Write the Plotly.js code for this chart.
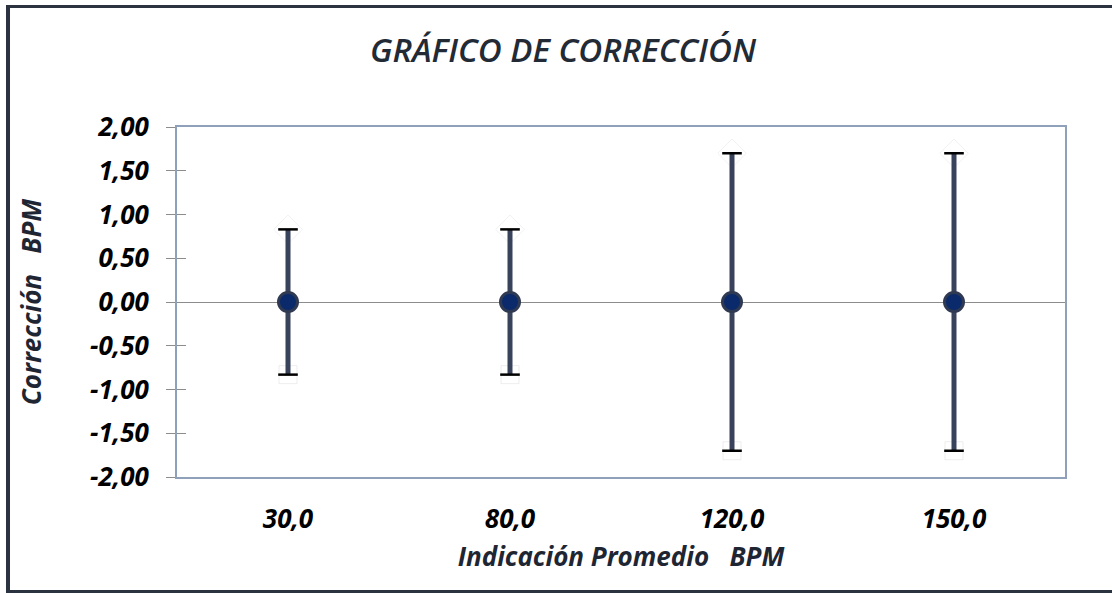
<!DOCTYPE html>
<html>
<head>
<meta charset="utf-8">
<script src="https://cdn.plot.ly/plotly-3.0.1.min.js"></script>
<style>
html,body{margin:0;padding:0;background:#fff;}
#wrap{position:relative;width:1112px;height:593px;}
#chart{width:1112px;height:593px;}
#frame{position:absolute;left:6px;top:5px;width:1106px;height:588px;border-left:4px solid #2b3340;border-top:3px solid #2b3340;border-bottom:3px solid #2b3340;pointer-events:none;box-sizing:border-box;}
</style>
</head>
<body>
<div id="wrap"><div id="chart"></div><div id="frame"></div></div>
<script>
// Data
const categories = ["30,0", "80,0", "120,0", "150,0"];
const corrections = [0, 0, 0, 0];
const uncertainty = [0.83, 0.83, 1.70, 1.70];
const yTickVals = [2, 1.5, 1, 0.5, 0, -0.5, -1, -1.5, -2];
const yTickText = ["2,00", "1,50", "1,00", "0,50", "0,00", "-0,50", "-1,00", "-1,50", "-2,00"];

const upper = corrections.map((v, i) => v + uncertainty[i]);
const lower = corrections.map((v, i) => v - uncertainty[i]);

const FAM = "Open Sans, sans-serif";
const tickFont = {family: FAM, size: 26, color: "#000000", weight: 700, style: "italic"};
const titleFont = {family: FAM, size: 26, color: "#1f2633", weight: 700, style: "italic"};

const traces = [
  // halos behind caps
  {x: categories, y: upper, type: "scatter", mode: "markers", hoverinfo: "skip", showlegend: false,
   marker: {symbol: "diamond", size: 22, color: "#ffffff", line: {color: "rgba(0,0,0,0.06)", width: 1}}},
  {x: categories, y: lower, type: "scatter", mode: "markers", hoverinfo: "skip", showlegend: false,
   marker: {symbol: "square", size: 18, color: "#ffffff", line: {color: "rgba(0,0,0,0.07)", width: 1}}},
  // main series with error bars
  {x: categories, y: corrections, type: "scatter", mode: "markers", name: "Corrección", showlegend: false,
   error_y: {type: "data", array: uncertainty, visible: true, color: "#38425a", thickness: 5, width: 0},
   marker: {symbol: "circle", size: 19, color: "#0b2a6b", line: {color: "#2f3a52", width: 3}}},
  // caps
  {x: categories.concat(categories), y: upper.concat(lower), type: "scatter", mode: "markers", hoverinfo: "skip", showlegend: false,
   marker: {symbol: "line-ew", size: 14, line: {color: "#000000", width: 2.5}}},
  // dummy for inner ticks axis
  {x: [categories[0]], y: [0], yaxis: "y2", type: "scatter", mode: "markers", hoverinfo: "skip", showlegend: false, marker: {opacity: 0}}
];

const layout = {
  width: 1112, height: 593,
  paper_bgcolor: "#ffffff", plot_bgcolor: "#ffffff",
  margin: {l: 177, r: 47, t: 127, b: 116},
  showlegend: false,
  title: {text: "GRÁFICO DE CORRECCIÓN", x: 563/1112, xanchor: "center", y: 1 - 50/593, yanchor: "middle",
          font: {family: FAM, size: 33, color: "#222a35", weight: 600, style: "italic"}},
  xaxis: {type: "category", range: [-0.5, 3.5], showgrid: false, zeroline: false,
          showline: true, linecolor: "#8fa0ba", linewidth: 2, mirror: true,
          ticks: "", tickfont: tickFont, ticklabelstandoff: 18,
          title: {text: "Indicación Promedio\u00A0\u00A0\u00A0BPM", font: titleFont, standoff: 13}},
  yaxis: {range: [-2, 2], showgrid: false, zeroline: true, zerolinecolor: "#8c8c8c", zerolinewidth: 1,
          showline: true, linecolor: "#8fa0ba", linewidth: 2, mirror: true,
          tickvals: yTickVals, ticktext: yTickText, ticks: "outside", ticklen: 9, tickcolor: "#8c8c8c", tickwidth: 1,
          tickfont: tickFont, ticklabelstandoff: 12,
          title: {text: "Corrección\u00A0\u00A0\u00A0BPM", font: titleFont, standoff: 41}},
  yaxis2: {range: [-2, 2], overlaying: "y", side: "left", showgrid: false, zeroline: false, showline: false,
           tickvals: yTickVals, ticks: "inside", ticklen: 9, tickcolor: "#8c8c8c", tickwidth: 1, showticklabels: false}
};

Plotly.newPlot("chart", traces, layout, {displayModeBar: false, staticPlot: true});
</script>
</body>
</html>
